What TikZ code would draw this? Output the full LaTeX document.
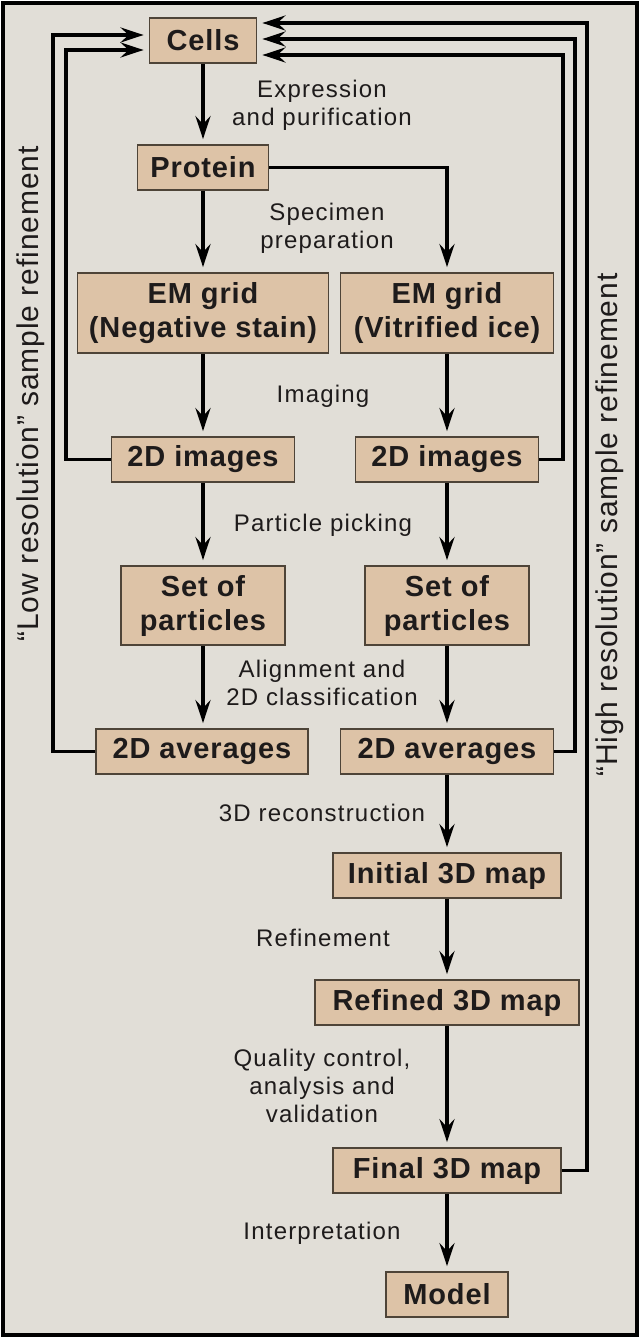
\documentclass[tikz,border=0pt]{standalone}
\usepackage{fontspec}
\setmainfont{Liberation Sans}
\newfontfamily\lblfont{Liberation Sans}[LetterSpace=5]
\newfontfamily\boxfont{Liberation Sans}[LetterSpace=3]
\newfontfamily\sidefont{Liberation Sans}[LetterSpace=3]
\usetikzlibrary{arrows.meta}
\definecolor{bg}{HTML}{E1DED7}
\definecolor{boxfill}{HTML}{DDC3A7}
\definecolor{boxline}{HTML}{4E4438}
\definecolor{ink}{HTML}{1E1B1B}
\tikzset{
  box/.style={draw=boxline, fill=boxfill, line width=1.8pt, inner sep=0pt, align=center,
    font=\boxfont\bfseries\fontsize{29}{34}\selectfont, text=ink},
  lbl/.style={font=\lblfont\fontsize{24}{28}\selectfont, align=center, text=ink, inner sep=0pt},
  side/.style={font=\sidefont\fontsize{30}{36}\selectfont, text=ink, rotate=90, inner sep=0pt},
  arr/.style={line width=3.5pt, draw=black, -{Stealth[length=23pt,width=15pt,inset=8pt]}, shorten >=5pt},
}
\begin{document}
\begin{tikzpicture}[x=1pt,y=-1pt]
\useasboundingbox (0,0) rectangle (640,1338);
\fill[white] (0,0) rectangle (640,1338);
\draw[line width=4pt, fill=bg] (3,3) rectangle (637,1335);
% boxes
\node[box, minimum width=107pt, minimum height=45pt] (cells) at (203,40.5) {Cells};
\node[box, minimum width=131pt, minimum height=45pt] (protein) at (203,167.5) {Protein};
\node[box, minimum width=251pt, minimum height=80pt] (emneg) at (203,313) {EM grid\\(Negative stain)};
\node[box, minimum width=213pt, minimum height=80pt] (emvit) at (447,313) {EM grid\\(Vitrified ice)};
\node[box, minimum width=183pt, minimum height=45pt] (imgL) at (203,459.5) {2D images};
\node[box, minimum width=183pt, minimum height=45pt] (imgR) at (447,459.5) {2D images};
\node[box, minimum width=164pt, minimum height=79pt] (setL) at (203,605.5) {Set of\\particles};
\node[box, minimum width=164pt, minimum height=79pt] (setR) at (447,605.5) {Set of\\particles};
\node[box, minimum width=212pt, minimum height=45pt] (avgL) at (202,751.5) {2D averages};
\node[box, minimum width=213pt, minimum height=45pt] (avgR) at (447,751.5) {2D averages};
\node[box, minimum width=228pt, minimum height=45pt] (init) at (447,875.5) {Initial 3D map};
\node[box, minimum width=264pt, minimum height=45pt] (refined) at (447,1002.5) {Refined 3D map};
\node[box, minimum width=228pt, minimum height=45pt] (final) at (447,1170.5) {Final 3D map};
\node[box, minimum width=122pt, minimum height=45pt] (model) at (447,1294.5) {Model};
% labels
\node[lbl] (l1) at (322,105) {Expression\\and purification};
\node[lbl] (l2) at (327,228.5) {Specimen\\preparation};
\node[lbl] (l3) at (323,396) {Imaging};
\node[lbl] (l4) at (323,525) {Particle picking};
\node[lbl] (l5) at (322,682.5) {Alignment and\\2D classification};
\node[lbl] (l6) at (322,813) {3D reconstruction};
\node[lbl] (l7) at (323,938) {Refinement};
\node[lbl] (l8) at (322,1086) {Quality control,\\analysis and\\validation};
\node[lbl] (l9) at (322,1233) {Interpretation};
% side texts
\node[side] (sl) at (31,394) {“Low resolution” sample refinement};
\node[side] (sr) at (610,525) {“High resolution” sample refinement};
% main arrows
\draw[arr] (cells) -- (protein);
\draw[arr] (protein) -- (emneg);
\draw[arr] (protein.east) -| (emvit.north);
\draw[arr] (emneg) -- (imgL);
\draw[arr] (emvit) -- (imgR);
\draw[arr] (imgL) -- (setL);
\draw[arr] (imgR) -- (setR);
\draw[arr] (setL) -- (avgL.north -| setL.south);
\draw[arr] (setR) -- (avgR);
\draw[arr] (avgR) -- (init);
\draw[arr] (init) -- (refined);
\draw[arr] (refined) -- (final);
\draw[arr] (final) -- (model);
% feedback coordinates
\coordinate (fl1) at (66,50);
\coordinate (fl2) at (53,35);
\coordinate (fr1) at (563,55);
\coordinate (fr2) at (575,39);
\coordinate (fr3) at (587,23);
\draw[arr] (imgL.west) -| (fl1) -- (fl1 -| cells.west);
\draw[arr] (avgL.west) -| (fl2) -- (fl2 -| cells.west);
\draw[arr] (imgR.east) -| (fr1) -- (fr1 -| cells.east);
\draw[arr] (avgR.east) -| (fr2) -- (fr2 -| cells.east);
\draw[arr] (final.east) -| (fr3) -- (fr3 -| cells.east);
\end{tikzpicture}
\end{document}
